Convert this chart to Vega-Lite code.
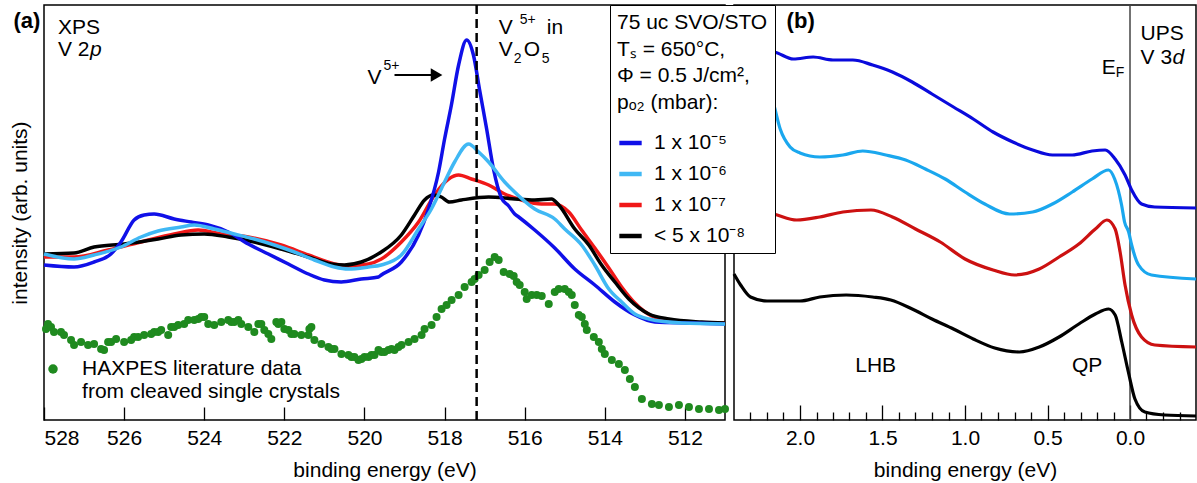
{
 "$schema": "https://vega.github.io/schema/vega-lite/v6.json",
 "padding": {"left": 8, "top": 3, "right": 0, "bottom": 0},
 "background": "white",
 "spacing": 9,
 "bounds": "flush",
 "config": {
  "font": "Liberation Sans",
  "view": {"stroke": "#000", "strokeWidth": 1.5},
  "axis": {"grid": false, "domain": false, "tickColor": "#000", "tickWidth": 1.3, "labelColor": "#000", "titleColor": "#000", "labelFontSize": 21, "titleFontSize": 21, "titleFontWeight": "normal", "labelFont": "Liberation Sans", "titleFont": "Liberation Sans"},
  "text": {"fontSize": 21, "font": "Liberation Sans", "fill": "#000"}
 },
 "datasets": {
  "xps": [
   {"p":"1 x 10\u207b\u2077","E":528,"I":163},{"p":"1 x 10\u207b\u2077","E":527.25,"I":163},{"p":"1 x 10\u207b\u2077","E":526.4,"I":170},{"p":"1 x 10\u207b\u2077","E":525.58,"I":178},{"p":"1 x 10\u207b\u2077","E":524.75,"I":186},{"p":"1 x 10\u207b\u2077","E":524.15,"I":190},{"p":"1 x 10\u207b\u2077","E":523.58,"I":186},{"p":"1 x 10\u207b\u2077","E":522.9,"I":183},{"p":"1 x 10\u207b\u2077","E":522.08,"I":175},{"p":"1 x 10\u207b\u2077","E":521.4,"I":165},{"p":"1 x 10\u207b\u2077","E":520.75,"I":156},{"p":"1 x 10\u207b\u2077","E":520.4,"I":154},{"p":"1 x 10\u207b\u2077","E":519.9,"I":156},{"p":"1 x 10\u207b\u2077","E":519.58,"I":161},{"p":"1 x 10\u207b\u2077","E":519.08,"I":178},{"p":"1 x 10\u207b\u2077","E":518.65,"I":198},{"p":"1 x 10\u207b\u2077","E":518.25,"I":225},{"p":"1 x 10\u207b\u2077","E":517.9,"I":241},{"p":"1 x 10\u207b\u2077","E":517.65,"I":245},{"p":"1 x 10\u207b\u2077","E":517.33,"I":241},{"p":"1 x 10\u207b\u2077","E":516.9,"I":235},{"p":"1 x 10\u207b\u2077","E":516.5,"I":226},{"p":"1 x 10\u207b\u2077","E":516.08,"I":220},{"p":"1 x 10\u207b\u2077","E":515.58,"I":216},{"p":"1 x 10\u207b\u2077","E":515.25,"I":216},{"p":"1 x 10\u207b\u2077","E":514.9,"I":208},{"p":"1 x 10\u207b\u2077","E":514.58,"I":190},{"p":"1 x 10\u207b\u2077","E":514.25,"I":172},{"p":"1 x 10\u207b\u2077","E":513.9,"I":152},{"p":"1 x 10\u207b\u2077","E":513.58,"I":133},{"p":"1 x 10\u207b\u2077","E":513.25,"I":117},{"p":"1 x 10\u207b\u2077","E":512.83,"I":104},{"p":"1 x 10\u207b\u2077","E":512.33,"I":99},{"p":"1 x 10\u207b\u2077","E":511.6,"I":97},{"p":"1 x 10\u207b\u2077","E":511,"I":97},
   {"p":"< 5 x 10\u207b\u2078","E":528,"I":166},{"p":"< 5 x 10\u207b\u2078","E":527.25,"I":167},{"p":"< 5 x 10\u207b\u2078","E":526.75,"I":173},{"p":"< 5 x 10\u207b\u2078","E":526,"I":176},{"p":"< 5 x 10\u207b\u2078","E":525.15,"I":181},{"p":"< 5 x 10\u207b\u2078","E":524.58,"I":185},{"p":"< 5 x 10\u207b\u2078","E":524,"I":186},{"p":"< 5 x 10\u207b\u2078","E":523.4,"I":183},{"p":"< 5 x 10\u207b\u2078","E":522.75,"I":178},{"p":"< 5 x 10\u207b\u2078","E":522.08,"I":171},{"p":"< 5 x 10\u207b\u2078","E":521.4,"I":163},{"p":"< 5 x 10\u207b\u2078","E":520.83,"I":156},{"p":"< 5 x 10\u207b\u2078","E":520.5,"I":155},{"p":"< 5 x 10\u207b\u2078","E":520.08,"I":158},{"p":"< 5 x 10\u207b\u2078","E":519.58,"I":168},{"p":"< 5 x 10\u207b\u2078","E":519.08,"I":185},{"p":"< 5 x 10\u207b\u2078","E":518.75,"I":205},{"p":"< 5 x 10\u207b\u2078","E":518.5,"I":220},{"p":"< 5 x 10\u207b\u2078","E":518.28,"I":225},{"p":"< 5 x 10\u207b\u2078","E":518.08,"I":223},{"p":"< 5 x 10\u207b\u2078","E":517.88,"I":218},{"p":"< 5 x 10\u207b\u2078","E":517.58,"I":220},{"p":"< 5 x 10\u207b\u2078","E":516.9,"I":223},{"p":"< 5 x 10\u207b\u2078","E":516.25,"I":221},{"p":"< 5 x 10\u207b\u2078","E":515.75,"I":220},{"p":"< 5 x 10\u207b\u2078","E":515.33,"I":221},{"p":"< 5 x 10\u207b\u2078","E":515.15,"I":215},{"p":"< 5 x 10\u207b\u2078","E":514.75,"I":191},{"p":"< 5 x 10\u207b\u2078","E":514.4,"I":175},{"p":"< 5 x 10\u207b\u2078","E":514.08,"I":155},{"p":"< 5 x 10\u207b\u2078","E":513.75,"I":138},{"p":"< 5 x 10\u207b\u2078","E":513.4,"I":121},{"p":"< 5 x 10\u207b\u2078","E":512.9,"I":106},{"p":"< 5 x 10\u207b\u2078","E":512.4,"I":101},{"p":"< 5 x 10\u207b\u2078","E":511.58,"I":98},{"p":"< 5 x 10\u207b\u2078","E":511,"I":97},
   {"p":"1 x 10\u207b\u2075","E":528,"I":155},{"p":"1 x 10\u207b\u2075","E":527.25,"I":153},{"p":"1 x 10\u207b\u2075","E":526.75,"I":158},{"p":"1 x 10\u207b\u2075","E":526.33,"I":166},{"p":"1 x 10\u207b\u2075","E":526.08,"I":178},{"p":"1 x 10\u207b\u2075","E":525.75,"I":200},{"p":"1 x 10\u207b\u2075","E":525.5,"I":205},{"p":"1 x 10\u207b\u2075","E":525.25,"I":206},{"p":"1 x 10\u207b\u2075","E":524.75,"I":201},{"p":"1 x 10\u207b\u2075","E":524.33,"I":198},{"p":"1 x 10\u207b\u2075","E":523.9,"I":195},{"p":"1 x 10\u207b\u2075","E":523.4,"I":188},{"p":"1 x 10\u207b\u2075","E":522.9,"I":176},{"p":"1 x 10\u207b\u2075","E":522.4,"I":166},{"p":"1 x 10\u207b\u2075","E":521.9,"I":156},{"p":"1 x 10\u207b\u2075","E":521.4,"I":146},{"p":"1 x 10\u207b\u2075","E":521,"I":140},{"p":"1 x 10\u207b\u2075","E":520.58,"I":138},{"p":"1 x 10\u207b\u2075","E":520.08,"I":141},{"p":"1 x 10\u207b\u2075","E":519.65,"I":143},{"p":"1 x 10\u207b\u2075","E":519.58,"I":145},{"p":"1 x 10\u207b\u2075","E":519.08,"I":158},{"p":"1 x 10\u207b\u2075","E":518.65,"I":185},{"p":"1 x 10\u207b\u2075","E":518.4,"I":211},{"p":"1 x 10\u207b\u2075","E":518.15,"I":248},{"p":"1 x 10\u207b\u2075","E":518,"I":281},{"p":"1 x 10\u207b\u2075","E":517.83,"I":315},{"p":"1 x 10\u207b\u2075","E":517.65,"I":355},{"p":"1 x 10\u207b\u2075","E":517.45,"I":380},{"p":"1 x 10\u207b\u2075","E":517.28,"I":365},{"p":"1 x 10\u207b\u2075","E":517.13,"I":331},{"p":"1 x 10\u207b\u2075","E":516.95,"I":291},{"p":"1 x 10\u207b\u2075","E":516.78,"I":251},{"p":"1 x 10\u207b\u2075","E":516.58,"I":222},{"p":"1 x 10\u207b\u2075","E":516.4,"I":214},{"p":"1 x 10\u207b\u2075","E":516.25,"I":206},{"p":"1 x 10\u207b\u2075","E":516.15,"I":203},{"p":"1 x 10\u207b\u2075","E":515.75,"I":190},{"p":"1 x 10\u207b\u2075","E":515.25,"I":172},{"p":"1 x 10\u207b\u2075","E":514.75,"I":151},{"p":"1 x 10\u207b\u2075","E":514.25,"I":135},{"p":"1 x 10\u207b\u2075","E":513.75,"I":118},{"p":"1 x 10\u207b\u2075","E":513.25,"I":105},{"p":"1 x 10\u207b\u2075","E":512.75,"I":98},{"p":"1 x 10\u207b\u2075","E":511.83,"I":97},{"p":"1 x 10\u207b\u2075","E":511,"I":96},
   {"p":"1 x 10\u207b\u2076","E":528,"I":166},{"p":"1 x 10\u207b\u2076","E":527.25,"I":161},{"p":"1 x 10\u207b\u2076","E":526.75,"I":165},{"p":"1 x 10\u207b\u2076","E":526.08,"I":173},{"p":"1 x 10\u207b\u2076","E":525.58,"I":183},{"p":"1 x 10\u207b\u2076","E":525.15,"I":189},{"p":"1 x 10\u207b\u2076","E":524.58,"I":193},{"p":"1 x 10\u207b\u2076","E":524.25,"I":195},{"p":"1 x 10\u207b\u2076","E":523.75,"I":191},{"p":"1 x 10\u207b\u2076","E":523.25,"I":186},{"p":"1 x 10\u207b\u2076","E":522.75,"I":181},{"p":"1 x 10\u207b\u2076","E":522.25,"I":175},{"p":"1 x 10\u207b\u2076","E":521.75,"I":168},{"p":"1 x 10\u207b\u2076","E":521.25,"I":160},{"p":"1 x 10\u207b\u2076","E":520.75,"I":153},{"p":"1 x 10\u207b\u2076","E":520.4,"I":151},{"p":"1 x 10\u207b\u2076","E":519.9,"I":153},{"p":"1 x 10\u207b\u2076","E":519.58,"I":155},{"p":"1 x 10\u207b\u2076","E":519.08,"I":165},{"p":"1 x 10\u207b\u2076","E":518.65,"I":191},{"p":"1 x 10\u207b\u2076","E":518.33,"I":211},{"p":"1 x 10\u207b\u2076","E":518,"I":238},{"p":"1 x 10\u207b\u2076","E":517.75,"I":258},{"p":"1 x 10\u207b\u2076","E":517.4,"I":276},{"p":"1 x 10\u207b\u2076","E":517.15,"I":268},{"p":"1 x 10\u207b\u2076","E":516.9,"I":258},{"p":"1 x 10\u207b\u2076","E":516.5,"I":238},{"p":"1 x 10\u207b\u2076","E":516.33,"I":231},{"p":"1 x 10\u207b\u2076","E":515.75,"I":211},{"p":"1 x 10\u207b\u2076","E":515.25,"I":201},{"p":"1 x 10\u207b\u2076","E":515,"I":191},{"p":"1 x 10\u207b\u2076","E":514.58,"I":175},{"p":"1 x 10\u207b\u2076","E":514.25,"I":155},{"p":"1 x 10\u207b\u2076","E":513.9,"I":131},{"p":"1 x 10\u207b\u2076","E":513.58,"I":118},{"p":"1 x 10\u207b\u2076","E":513.25,"I":106},{"p":"1 x 10\u207b\u2076","E":512.9,"I":101},{"p":"1 x 10\u207b\u2076","E":512.08,"I":97},{"p":"1 x 10\u207b\u2076","E":511,"I":96}
  ],
  "haxpes": [
   {"E":527.95,"I":91},{"E":527.9,"I":96},{"E":527.825,"I":93},{"E":527.75,"I":88},{"E":527.575,"I":88},{"E":527.5,"I":85},{"E":527.325,"I":80},{"E":527.25,"I":75},{"E":527.075,"I":78},{"E":526.9,"I":75},{"E":526.75,"I":76},{"E":526.575,"I":71},{"E":526.5,"I":70},{"E":526.4,"I":78},{"E":526.325,"I":78},{"E":526.2,"I":81},{"E":526.0,"I":78},{"E":525.825,"I":80},{"E":525.75,"I":83},{"E":525.65,"I":83},{"E":525.5,"I":85},{"E":525.325,"I":86},{"E":525.25,"I":88},{"E":525.15,"I":88},{"E":525.075,"I":90},{"E":524.9,"I":85},{"E":524.825,"I":93},{"E":524.75,"I":93},{"E":524.65,"I":95},{"E":524.5,"I":96},{"E":524.4,"I":100},{"E":524.25,"I":100},{"E":524.15,"I":101},{"E":524.075,"I":103},{"E":524.0,"I":103},{"E":523.9,"I":96},{"E":523.75,"I":95},{"E":523.575,"I":98},{"E":523.4,"I":100},{"E":523.325,"I":98},{"E":523.25,"I":98},{"E":523.15,"I":100},{"E":523.075,"I":96},{"E":522.9,"I":93},{"E":522.75,"I":88},{"E":522.65,"I":96},{"E":522.575,"I":96},{"E":522.5,"I":90},{"E":522.4,"I":86},{"E":522.325,"I":81},{"E":522.2,"I":98},{"E":522.15,"I":96},{"E":522.075,"I":98},{"E":522.0,"I":91},{"E":521.9,"I":90},{"E":521.825,"I":86},{"E":521.75,"I":86},{"E":521.575,"I":85},{"E":521.4,"I":85},{"E":521.375,"I":91},{"E":521.325,"I":93},{"E":521.25,"I":80},{"E":521.075,"I":76},{"E":520.9,"I":73},{"E":520.825,"I":71},{"E":520.75,"I":71},{"E":520.575,"I":66},{"E":520.4,"I":65},{"E":520.325,"I":63},{"E":520.25,"I":63},{"E":520.15,"I":60},{"E":520.075,"I":61},{"E":520.0,"I":63},{"E":519.9,"I":63},{"E":519.825,"I":65},{"E":519.75,"I":65},{"E":519.65,"I":70},{"E":519.575,"I":68},{"E":519.5,"I":68},{"E":519.4,"I":70},{"E":519.325,"I":71},{"E":519.25,"I":70},{"E":519.15,"I":73},{"E":519.075,"I":75},{"E":518.9,"I":78},{"E":518.75,"I":81},{"E":518.575,"I":85},{"E":518.5,"I":91},{"E":518.325,"I":95},{"E":518.2,"I":103},{"E":518.075,"I":111},{"E":517.95,"I":115},{"E":517.825,"I":120},{"E":517.65,"I":125},{"E":517.5,"I":133},{"E":517.325,"I":138},{"E":517.25,"I":141},{"E":517.15,"I":145},{"E":517.0,"I":150},{"E":516.875,"I":158},{"E":516.75,"I":163},{"E":516.65,"I":160},{"E":516.525,"I":148},{"E":516.375,"I":146},{"E":516.275,"I":144},{"E":516.2,"I":138},{"E":516.125,"I":135},{"E":516.0,"I":128},{"E":515.95,"I":121},{"E":515.825,"I":125},{"E":515.7,"I":125},{"E":515.575,"I":124},{"E":515.4,"I":116},{"E":515.25,"I":128},{"E":515.15,"I":131},{"E":515.0,"I":131},{"E":514.9,"I":128},{"E":514.825,"I":125},{"E":514.75,"I":115},{"E":514.65,"I":105},{"E":514.575,"I":103},{"E":514.5,"I":96},{"E":514.45,"I":90},{"E":514.275,"I":83},{"E":514.15,"I":78},{"E":514.075,"I":71},{"E":514.0,"I":66},{"E":513.825,"I":60},{"E":513.65,"I":56},{"E":513.5,"I":50},{"E":513.375,"I":41},{"E":513.25,"I":33},{"E":513.075,"I":21},{"E":512.825,"I":16},{"E":512.65,"I":15},{"E":512.4,"I":13},{"E":512.15,"I":15},{"E":511.9,"I":13},{"E":511.65,"I":11},{"E":511.4,"I":11},{"E":511.15,"I":10},{"E":511.0,"I":11}
  ],
  "ups": [
   {"p":"1 x 10\u207b\u2075","E":2.4,"I":370},{"p":"1 x 10\u207b\u2075","E":2.16,"I":368},{"p":"1 x 10\u207b\u2075","E":2.04,"I":361},{"p":"1 x 10\u207b\u2075","E":1.92,"I":363},{"p":"1 x 10\u207b\u2075","E":1.8,"I":360},{"p":"1 x 10\u207b\u2075","E":1.68,"I":360},{"p":"1 x 10\u207b\u2075","E":1.56,"I":355},{"p":"1 x 10\u207b\u2075","E":1.44,"I":348},{"p":"1 x 10\u207b\u2075","E":1.32,"I":338},{"p":"1 x 10\u207b\u2075","E":1.2,"I":326},{"p":"1 x 10\u207b\u2075","E":1.07,"I":313},{"p":"1 x 10\u207b\u2075","E":0.95,"I":301},{"p":"1 x 10\u207b\u2075","E":0.83,"I":288},{"p":"1 x 10\u207b\u2075","E":0.71,"I":278},{"p":"1 x 10\u207b\u2075","E":0.59,"I":270},{"p":"1 x 10\u207b\u2075","E":0.47,"I":265},{"p":"1 x 10\u207b\u2075","E":0.35,"I":265},{"p":"1 x 10\u207b\u2075","E":0.23,"I":269},{"p":"1 x 10\u207b\u2075","E":0.15,"I":270},{"p":"1 x 10\u207b\u2075","E":0.09,"I":261},{"p":"1 x 10\u207b\u2075","E":0.03,"I":245},{"p":"1 x 10\u207b\u2075","E":-0.01,"I":230},{"p":"1 x 10\u207b\u2075","E":-0.07,"I":216},{"p":"1 x 10\u207b\u2075","E":-0.15,"I":213},{"p":"1 x 10\u207b\u2075","E":-0.4,"I":212},
   {"p":"1 x 10\u207b\u2076","E":2.4,"I":395},{"p":"1 x 10\u207b\u2076","E":2.28,"I":355},{"p":"1 x 10\u207b\u2076","E":2.16,"I":316},{"p":"1 x 10\u207b\u2076","E":2.12,"I":291},{"p":"1 x 10\u207b\u2076","E":2.06,"I":273},{"p":"1 x 10\u207b\u2076","E":2.0,"I":267},{"p":"1 x 10\u207b\u2076","E":1.88,"I":263},{"p":"1 x 10\u207b\u2076","E":1.74,"I":265},{"p":"1 x 10\u207b\u2076","E":1.62,"I":269},{"p":"1 x 10\u207b\u2076","E":1.48,"I":265},{"p":"1 x 10\u207b\u2076","E":1.36,"I":260},{"p":"1 x 10\u207b\u2076","E":1.24,"I":251},{"p":"1 x 10\u207b\u2076","E":1.12,"I":241},{"p":"1 x 10\u207b\u2076","E":1.0,"I":228},{"p":"1 x 10\u207b\u2076","E":0.88,"I":216},{"p":"1 x 10\u207b\u2076","E":0.73,"I":206},{"p":"1 x 10\u207b\u2076","E":0.59,"I":208},{"p":"1 x 10\u207b\u2076","E":0.47,"I":216},{"p":"1 x 10\u207b\u2076","E":0.35,"I":228},{"p":"1 x 10\u207b\u2076","E":0.23,"I":241},{"p":"1 x 10\u207b\u2076","E":0.13,"I":250},{"p":"1 x 10\u207b\u2076","E":0.093,"I":241},{"p":"1 x 10\u207b\u2076","E":0.051,"I":215},{"p":"1 x 10\u207b\u2076","E":0.033,"I":198},{"p":"1 x 10\u207b\u2076","E":0.008,"I":188},{"p":"1 x 10\u207b\u2076","E":-0.01,"I":175},{"p":"1 x 10\u207b\u2076","E":-0.052,"I":155},{"p":"1 x 10\u207b\u2076","E":-0.13,"I":145},{"p":"1 x 10\u207b\u2076","E":-0.4,"I":141},
   {"p":"1 x 10\u207b\u2077","E":2.4,"I":212},{"p":"1 x 10\u207b\u2077","E":2.16,"I":206},{"p":"1 x 10\u207b\u2077","E":2.02,"I":200},{"p":"1 x 10\u207b\u2077","E":1.88,"I":203},{"p":"1 x 10\u207b\u2077","E":1.74,"I":208},{"p":"1 x 10\u207b\u2077","E":1.57,"I":210},{"p":"1 x 10\u207b\u2077","E":1.44,"I":203},{"p":"1 x 10\u207b\u2077","E":1.3,"I":191},{"p":"1 x 10\u207b\u2077","E":1.15,"I":178},{"p":"1 x 10\u207b\u2077","E":1.0,"I":161},{"p":"1 x 10\u207b\u2077","E":0.83,"I":150},{"p":"1 x 10\u207b\u2077","E":0.7,"I":145},{"p":"1 x 10\u207b\u2077","E":0.55,"I":151},{"p":"1 x 10\u207b\u2077","E":0.43,"I":163},{"p":"1 x 10\u207b\u2077","E":0.31,"I":176},{"p":"1 x 10\u207b\u2077","E":0.21,"I":191},{"p":"1 x 10\u207b\u2077","E":0.14,"I":200},{"p":"1 x 10\u207b\u2077","E":0.09,"I":191},{"p":"1 x 10\u207b\u2077","E":0.06,"I":168},{"p":"1 x 10\u207b\u2077","E":0.03,"I":135},{"p":"1 x 10\u207b\u2077","E":-0.01,"I":105},{"p":"1 x 10\u207b\u2077","E":-0.07,"I":83},{"p":"1 x 10\u207b\u2077","E":-0.15,"I":75},{"p":"1 x 10\u207b\u2077","E":-0.4,"I":73},
   {"p":"< 5 x 10\u207b\u2078","E":2.4,"I":146},{"p":"< 5 x 10\u207b\u2078","E":2.36,"I":135},{"p":"< 5 x 10\u207b\u2078","E":2.3,"I":123},{"p":"< 5 x 10\u207b\u2078","E":2.2,"I":119},{"p":"< 5 x 10\u207b\u2078","E":2.0,"I":119},{"p":"< 5 x 10\u207b\u2078","E":1.88,"I":123},{"p":"< 5 x 10\u207b\u2078","E":1.72,"I":125},{"p":"< 5 x 10\u207b\u2078","E":1.56,"I":123},{"p":"< 5 x 10\u207b\u2078","E":1.45,"I":120},{"p":"< 5 x 10\u207b\u2078","E":1.32,"I":111},{"p":"< 5 x 10\u207b\u2078","E":1.2,"I":101},{"p":"< 5 x 10\u207b\u2078","E":1.07,"I":91},{"p":"< 5 x 10\u207b\u2078","E":0.95,"I":81},{"p":"< 5 x 10\u207b\u2078","E":0.82,"I":72},{"p":"< 5 x 10\u207b\u2078","E":0.67,"I":68},{"p":"< 5 x 10\u207b\u2078","E":0.55,"I":73},{"p":"< 5 x 10\u207b\u2078","E":0.43,"I":83},{"p":"< 5 x 10\u207b\u2078","E":0.31,"I":96},{"p":"< 5 x 10\u207b\u2078","E":0.21,"I":106},{"p":"< 5 x 10\u207b\u2078","E":0.13,"I":111},{"p":"< 5 x 10\u207b\u2078","E":0.09,"I":105},{"p":"< 5 x 10\u207b\u2078","E":0.05,"I":78},{"p":"< 5 x 10\u207b\u2078","E":0.01,"I":48},{"p":"< 5 x 10\u207b\u2078","E":-0.03,"I":21},{"p":"< 5 x 10\u207b\u2078","E":-0.09,"I":8},{"p":"< 5 x 10\u207b\u2078","E":-0.21,"I":5},{"p":"< 5 x 10\u207b\u2078","E":-0.4,"I":4}
  ],
  "annA": [
   {"t":"XPS","E":527.65,"I":386},{"t":"V 2","E":527.65,"I":364},{"t":"V","E":519.925,"I":336},{"t":"V","E":516.65,"I":386},{"t":"in","E":515.45,"I":386},{"t":"V","E":516.65,"I":364},{"t":"O","E":516.025,"I":364},{"t":"HAXPES literature data","E":527.05,"I":45},{"t":"from cleaved single crystals","E":527.05,"I":22}
  ],
  "annAi": [{"t":"p","E":526.85,"I":364}],
  "annAs": [{"t":"5+","E":519.525,"I":350},{"t":"5+","E":516.125,"I":396},{"t":"2","E":516.275,"I":357},{"t":"5","E":515.575,"I":357}],
  "annAb": [{"t":"(a)","E":528.425,"I":392}],
  "annB": [{"t":"E","E":0.171,"I":346},{"t":"UPS","E":-0.064,"I":380},{"t":"V 3","E":-0.064,"I":356},{"t":"LHB","E":1.665,"I":48},{"t":"QP","E":0.352,"I":48}],
  "annBi": [{"t":"d","E":-0.257,"I":356}],
  "annBs": [{"t":"F","E":0.087,"I":343}],
  "annBb": [{"t":"(b)","E":1.996,"I":392}]
 },
 "hconcat": [
  {
   "width": 681,
   "height": 415,
   "layer": [
    {
     "data": {"name": "haxpes"},
     "mark": {"type": "circle", "size": 64, "opacity": 1, "color": "#1f8a1f"},
     "encoding": {
      "x": {"field": "E", "type": "quantitative", "scale": {"domain": [511, 528], "reverse": true, "nice": false, "zero": false}, "axis": {"values": [512, 514, 516, 518, 520, 522, 524, 526, 528], "tickSize": -13, "labelPadding": 20, "titlePadding": 11, "title": "binding energy (eV)", "format": "d"}},
      "y": {"field": "I", "type": "quantitative", "scale": {"domain": [0, 415], "nice": false, "zero": false}, "axis": {"title": "intensity (arb. units)", "ticks": false, "labels": false, "titlePadding": 14}}
     }
    },
    {
     "data": {"name": "xps"},
     "mark": {"type": "line", "strokeWidth": 3.5, "interpolate": "monotone"},
     "encoding": {
      "x": {"field": "E", "type": "quantitative"},
      "y": {"field": "I", "type": "quantitative"},
      "stroke": {
       "field": "p", "type": "nominal",
       "scale": {"domain": ["1 x 10\u207b\u2075", "1 x 10\u207b\u2076", "1 x 10\u207b\u2077", "< 5 x 10\u207b\u2078"], "range": ["#1010e8", "#40b8f4", "#f01818", "#000000"]},
       "legend": {
        "orient": "none", "legendX": 566, "legendY": 0,
        "title": ["75 uc SVO/STO", "T\u209b = 650\u00b0C,", "\u03a6 = 0.5 J/cm\u00b2,", "p\u2092\u2082 (mbar):"],
        "titleFontSize": 21, "titleFontWeight": "normal", "titleLineHeight": 26.5, "titlePadding": 17, "titleLimit": 400, "titleColor": "#000",
        "labelFontSize": 21, "labelOffset": 10, "labelLimit": 400, "labelColor": "#000",
        "symbolType": "stroke", "symbolSize": 500, "symbolStrokeWidth": 4.5,
        "rowPadding": 7, "padding": 7, "strokeColor": "#000", "fillColor": "#fff"
       }
      }
     }
    },
    {
     "data": {"values": [{}]},
     "mark": {"type": "rule", "strokeDash": [9, 5], "strokeWidth": 2.5, "color": "#000"},
     "encoding": {"x": {"datum": 517.2, "type": "quantitative"}}
    },
    {
     "data": {"values": [{}]},
     "mark": {"type": "rule", "strokeWidth": 1.8, "color": "#000"},
     "encoding": {"x": {"datum": 519.25, "type": "quantitative"}, "x2": {"datum": 518.3}, "y": {"datum": 345, "type": "quantitative"}}
    },
    {
     "data": {"values": [{}]},
     "mark": {"type": "point", "shape": "triangle-right", "size": 180, "filled": true, "color": "#000", "opacity": 1},
     "encoding": {"x": {"datum": 518.2, "type": "quantitative"}, "y": {"datum": 345, "type": "quantitative"}}
    },
    {
     "data": {"values": [{}]},
     "mark": {"type": "circle", "size": 90, "color": "#1f8a1f", "opacity": 1},
     "encoding": {"x": {"datum": 527.775, "type": "quantitative"}, "y": {"datum": 51, "type": "quantitative"}}
    },
    {
     "data": {"name": "annA"},
     "mark": {"type": "text", "align": "left", "baseline": "alphabetic", "fontSize": 21},
     "encoding": {"x": {"field": "E", "type": "quantitative"}, "y": {"field": "I", "type": "quantitative"}, "text": {"field": "t"}}
    },
    {
     "data": {"name": "annAi"},
     "mark": {"type": "text", "align": "left", "baseline": "alphabetic", "fontSize": 21, "fontStyle": "italic"},
     "encoding": {"x": {"field": "E", "type": "quantitative"}, "y": {"field": "I", "type": "quantitative"}, "text": {"field": "t"}}
    },
    {
     "data": {"name": "annAs"},
     "mark": {"type": "text", "align": "left", "baseline": "alphabetic", "fontSize": 14},
     "encoding": {"x": {"field": "E", "type": "quantitative"}, "y": {"field": "I", "type": "quantitative"}, "text": {"field": "t"}}
    },
    {
     "data": {"name": "annAb"},
     "mark": {"type": "text", "align": "center", "baseline": "alphabetic", "fontSize": 22, "fontWeight": "bold"},
     "encoding": {"x": {"field": "E", "type": "quantitative"}, "y": {"field": "I", "type": "quantitative"}, "text": {"field": "t"}}
    }
   ]
  },
  {
   "width": 462,
   "height": 415,
   "resolve": {"axis": {"x": "independent"}},
   "layer": [
    {
     "data": {"values": [{}]},
     "mark": {"type": "rule", "strokeWidth": 1.5, "color": "#444"},
     "encoding": {"x": {"datum": 0, "type": "quantitative", "scale": {"domain": [-0.4, 2.4], "reverse": true, "nice": false, "zero": false}, "axis": {"orient": "bottom", "values": [-0.3, -0.2, -0.1, 0.1, 0.2, 0.3, 0.4, 0.6, 0.7, 0.8, 0.9, 1.1, 1.2, 1.3, 1.4, 1.6, 1.7, 1.8, 1.9, 2.1, 2.2, 2.3], "tickSize": -8, "labels": false, "title": null}}}
    },
    {
     "data": {"name": "ups"},
     "mark": {"type": "line", "strokeWidth": 3.2, "interpolate": "monotone"},
     "encoding": {
      "x": {"field": "E", "type": "quantitative", "axis": {"orient": "bottom", "values": [0, 0.5, 1, 1.5, 2], "tickSize": -15, "format": ".1f", "labelPadding": 22, "titlePadding": 11, "title": "binding energy (eV)"}},
      "y": {"field": "I", "type": "quantitative", "scale": {"domain": [0, 415], "nice": false, "zero": false}, "axis": null},
      "color": {"field": "p", "type": "nominal", "scale": {"domain": ["1 x 10\u207b\u2075", "1 x 10\u207b\u2076", "1 x 10\u207b\u2077", "< 5 x 10\u207b\u2078"], "range": ["#0a0adc", "#1aa7ee", "#cc1111", "#000000"]}, "legend": null}
     }
    },
    {
     "data": {"name": "annB"},
     "mark": {"type": "text", "align": "left", "baseline": "alphabetic", "fontSize": 21},
     "encoding": {"x": {"field": "E", "type": "quantitative", "axis": null}, "y": {"field": "I", "type": "quantitative", "axis": null}, "text": {"field": "t"}}
    },
    {
     "data": {"name": "annBi"},
     "mark": {"type": "text", "align": "left", "baseline": "alphabetic", "fontSize": 21, "fontStyle": "italic"},
     "encoding": {"x": {"field": "E", "type": "quantitative", "axis": null}, "y": {"field": "I", "type": "quantitative", "axis": null}, "text": {"field": "t"}}
    },
    {
     "data": {"name": "annBs"},
     "mark": {"type": "text", "align": "left", "baseline": "alphabetic", "fontSize": 14},
     "encoding": {"x": {"field": "E", "type": "quantitative", "axis": null}, "y": {"field": "I", "type": "quantitative", "axis": null}, "text": {"field": "t"}}
    },
    {
     "data": {"name": "annBb"},
     "mark": {"type": "text", "align": "center", "baseline": "alphabetic", "fontSize": 22, "fontWeight": "bold"},
     "encoding": {"x": {"field": "E", "type": "quantitative", "axis": null}, "y": {"field": "I", "type": "quantitative", "axis": null}, "text": {"field": "t"}}
    }
   ]
  }
 ]
}
